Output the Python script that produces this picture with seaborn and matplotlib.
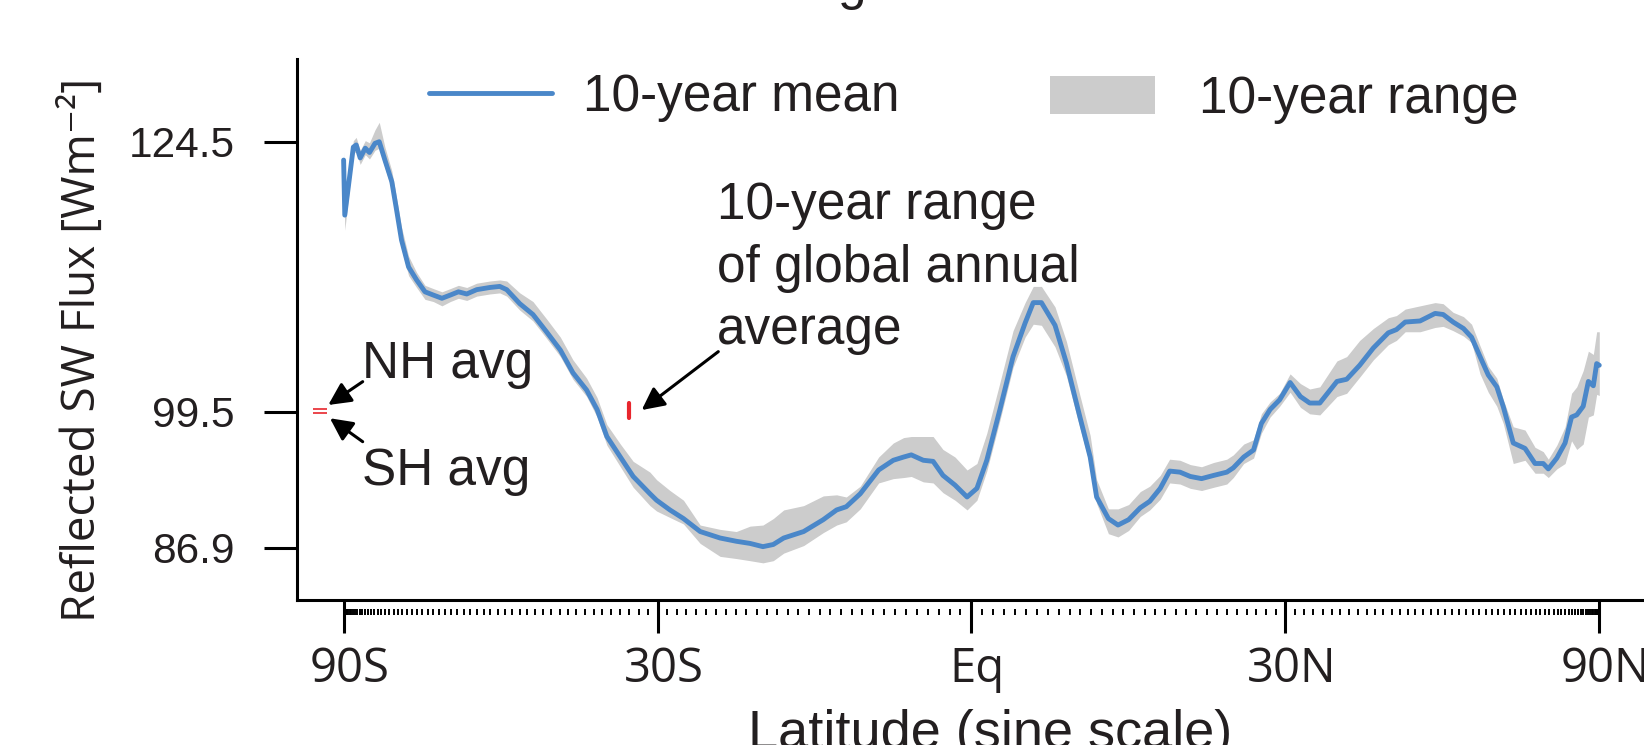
import numpy as np
import pandas as pd
import matplotlib
matplotlib.use("Agg")
import matplotlib.pyplot as plt
import matplotlib.transforms as mtransforms
from matplotlib.lines import Line2D
from matplotlib.patches import Patch
from matplotlib.ticker import FixedLocator, NullFormatter
import seaborn as sns

# ---------------- data ----------------
lat = [-89.5, -86.5, -79.9, -78.5, -76.8, -74.9, -73.5, -71.8, -70.6, -69.1,
       -67.4, -66.3, -65.2, -63.7, -62.1, -60.5, -59.0, -57.5, -56.1, -54.8,
       -53.5, -52.0, -50.1, -48.7, -47.75, -46.0, -44.3, -42.6, -40.9, -39.4,
       -37.8, -36.6, -35.5, -34.0, -32.6, -30.8, -30.1, -28.7, -27.3, -25.6,
       -23.6, -22.0, -20.65, -19.4, -18.4, -17.4, -15.5, -13.65, -12.4, -11.5,
       -10.2, -8.5, -7.15, -6.2, -5.5, -4.4, -3.5, -2.6, -1.5, -0.4,
       0.5, 1.4, 2.6, 3.8, 4.9, 5.65, 6.4, 7.65, 8.7, 9.95,
       10.9, 11.5, 12.6, 13.5, 14.5, 15.6, 16.5, 17.5, 18.4, 19.4,
       20.4, 21.5, 22.7, 24.0, 24.65, 25.7, 26.7, 27.5, 28.4, 29.4,
       30.5, 31.6, 32.6, 33.7, 35.6, 36.7, 38.2, 39.8, 41.6, 42.6,
       43.7, 45.6, 47.6, 48.7, 50.1, 51.6, 52.8, 54.1, 55.4, 56.8,
       57.9, 59.65, 61.85, 63.85, 65.6, 66.75, 68.8, 71.0, 72.9, 74.6,
       77.0, 79.3, 82.1, 84.75, 89.5]

flux_mean = [122.8, 117.7, 124.0, 124.2, 123.0, 123.9, 123.5, 124.35, 124.5, 122.8,
             120.8, 118.2, 115.4, 112.9, 111.7, 110.6, 110.3, 110.0, 110.3, 110.6,
             110.4, 110.8, 111.0, 111.1, 110.8, 109.5, 108.5, 106.9, 105.2, 103.1,
             101.5, 99.7, 97.2, 95.3, 93.5, 91.9, 91.3, 90.4, 89.6, 88.4,
             87.8, 87.5, 87.3, 87.0, 87.2, 87.8, 88.4, 89.5, 90.4, 90.7,
             91.9, 94.1, 95.0, 95.3, 95.5, 95.0, 94.9, 93.6, 92.7, 91.6,
             92.4, 95.0, 99.7, 104.6, 107.7, 109.6, 109.6, 107.5, 104.0, 99.0,
             95.3, 91.6, 89.6, 89.0, 89.5, 90.6, 91.2, 92.4, 94.0, 93.9,
             93.5, 93.3, 93.6, 93.9, 94.3, 95.3, 95.95, 98.4, 99.7, 100.6,
             102.2, 100.9, 100.3, 100.3, 102.3, 102.5, 103.8, 105.4, 106.8, 107.1,
             107.8, 107.9, 108.6, 108.5, 107.8, 107.2, 106.4, 104.6, 102.9, 101.8,
             99.95, 96.6, 96.1, 94.7, 94.7, 94.2, 95.2, 96.6, 99.0, 99.2,
             100.0, 102.3, 101.9, 103.95, 103.8]

flux_min = [122.0, 116.3, 123.4, 123.6, 122.4, 123.3, 122.9, 123.7, 123.9, 122.1,
            120.0, 117.4, 114.6, 112.1, 111.0, 109.9, 109.7, 109.3, 109.7, 110.0,
            109.8, 110.2, 110.4, 110.5, 110.2, 108.9, 107.9, 106.3, 104.6, 102.5,
            100.9, 99.0, 96.4, 94.4, 92.5, 90.8, 90.3, 89.7, 89.1, 87.3,
            86.1, 85.9, 85.7, 85.5, 85.7, 86.4, 87.1, 88.3, 89.0, 89.3,
            90.5, 92.9, 93.3, 93.4, 93.5, 93.0, 92.9, 92.0, 91.3, 90.4,
            91.3, 94.0, 98.7, 103.6, 106.4, 107.6, 107.5, 105.5, 102.8, 98.0,
            94.5, 91.0, 88.2, 87.9, 88.5, 89.8, 90.4, 91.4, 92.9, 92.8,
            92.4, 92.2, 92.5, 92.8, 93.4, 94.7, 95.2, 97.5, 99.0, 100.0,
            101.3, 99.9, 99.3, 99.2, 100.9, 101.2, 102.7, 104.3, 105.7, 106.1,
            106.9, 106.9, 107.3, 107.4, 107.0, 106.5, 105.9, 103.0, 101.3, 100.0,
            98.4, 94.7, 95.0, 93.8, 93.8, 93.4, 94.2, 94.7, 96.8, 96.0,
            96.5, 99.0, 99.2, 101.1, 101.0]

flux_max = [123.6, 118.6, 124.6, 124.9, 123.7, 124.6, 124.4, 125.6, 126.3, 124.0,
            121.8, 119.3, 116.6, 113.9, 112.4, 111.2, 110.9, 110.6, 110.9, 111.2,
            111.0, 111.4, 111.6, 111.7, 111.6, 110.5, 109.7, 108.1, 106.4, 104.3,
            102.6, 100.8, 98.3, 96.5, 94.9, 93.9, 93.2, 92.2, 91.3, 89.0,
            88.6, 88.4, 88.9, 89.0, 89.6, 90.4, 90.8, 91.7, 91.8, 91.6,
            92.6, 95.3, 96.6, 97.1, 97.2, 97.2, 97.2, 96.0, 95.3, 94.1,
            94.7, 97.5, 102.2, 107.0, 109.6, 111.1, 111.1, 109.2, 106.0, 101.0,
            97.3, 93.2, 90.5, 90.5, 90.9, 92.1, 92.6, 93.6, 95.1, 95.0,
            94.6, 94.4, 94.8, 95.1, 95.5, 96.5, 96.9, 99.3, 100.4, 101.2,
            103.0, 102.1, 101.6, 101.8, 104.2, 104.6, 106.1, 107.2, 108.2, 108.4,
            109.0, 109.3, 109.6, 109.5, 108.7, 108.3, 107.6, 105.6, 103.7, 102.6,
            100.6, 98.1, 97.8, 96.2, 95.8, 95.1, 96.4, 98.1, 101.2, 101.8,
            103.3, 105.1, 104.8, 106.9, 106.9]

nh_avg = 99.72
sh_avg = 99.35
global_annual_range = [98.89, 100.28]

xtick_lats = [-90, -30, 0, 30, 90]
xtick_labels = ["90S", "30S", "Eq", "30N", "90N"]
ytick_vals = [86.9, 99.5, 124.5]
ytick_labels = ["86.9", "99.5", "124.5"]

# ---------------- style ----------------
sns.set_style("ticks")
plt.rcParams["font.family"] = ["Liberation Sans", "DejaVu Sans"]
plt.rcParams["text.color"] = "#231f20"

BLUE = "#4a87c9"
GREY = "#cccccc"
RED = "#e8262d"
INK = "#231f20"

W, H, DPI = 1644, 745, 100
fig = plt.figure(figsize=(W / DPI, H / DPI), dpi=DPI)
ax = fig.add_axes([297 / W, (H - 600) / H, (W - 297) / W, (600 - 59) / H])

df = pd.DataFrame({
    "sinlat": np.sin(np.radians(lat)),
    "mean": flux_mean,
    "lo": flux_min,
    "hi": flux_max,
})

ax.fill_between(df["sinlat"], df["lo"], df["hi"], color=GREY, lw=0, zorder=1)
sns.lineplot(data=df, x="sinlat", y="mean", ax=ax, color=BLUE, lw=3.5,
             estimator=None, sort=False, legend=False, zorder=3)

# red markers
ax.hlines([nh_avg, sh_avg], -1.049, -1.027, colors=RED, lw=1.2,
          clip_on=False, zorder=4)
vl = ax.vlines(-0.5449, global_annual_range[0], global_annual_range[1],
               colors=RED, lw=3.0, zorder=4)
vl.set_capstyle("round")

# axes limits & spines
ax.set_xlim(-1.07422, 1.07120)
ax.set_ylim(82.06, 132.16)
ax.spines["top"].set_visible(False)
ax.spines["right"].set_visible(False)
for s in ("left", "bottom"):
    ax.spines[s].set_linewidth(2.2)
    ax.spines[s].set_color("black")

ax.set_xticks(np.sin(np.radians(xtick_lats)), labels=xtick_labels)
ax.set_yticks(ytick_vals, labels=ytick_labels)
ax.tick_params(axis="both", which="major", length=24, width=2.2,
               direction="out", color="black", labelcolor=INK)
ax.tick_params(axis="y", pad=21, labelsize=30.5)
ax.tick_params(axis="x", pad=9, labelsize=34)
shift = mtransforms.ScaledTranslation(0.06, 0, fig.dpi_scale_trans)
for lbl in ax.get_xticklabels():
    lbl.set_fontfamily("Open Sans")
    lbl.set_transform(lbl.get_transform() + shift)

# floating minor ticks (every degree, sine spaced)
secax = ax.secondary_xaxis(-9 / 541)
secax.xaxis.set_major_locator(FixedLocator(np.sin(np.radians(np.arange(-90, 91)))))
secax.xaxis.set_major_formatter(NullFormatter())
secax.tick_params(axis="x", which="major", length=4.3, width=1.4,
                  direction="out", color="black")
for sp in secax.spines.values():
    sp.set_visible(False)

# axis labels
ax.set_ylabel("Reflected SW Flux [Wm\u207b\u00b2]", fontsize=33,
              family=["Open Sans", "DejaVu Sans"], color=INK)
ax.yaxis.set_label_coords(-0.142, 0.462)
ax.set_xlabel("Latitude (sine scale)", fontsize=39, color=INK)
ax.xaxis.set_label_coords(0.5145, -0.2015)

# annotations
arrow_kw = dict(arrowstyle="-|>", color="black", lw=2.2, mutation_scale=34,
                shrinkA=0, shrinkB=0)
ax.annotate("", xy=(-1.0244, 100.12), xytext=(-0.9696, 102.28),
            arrowprops=arrow_kw, annotation_clip=False)
ax.annotate("", xy=(-1.0217, 98.89), xytext=(-0.9696, 96.72),
            arrowprops=arrow_kw, annotation_clip=False)
ax.annotate("", xy=(-0.5252, 99.65), xytext=(-0.4032, 105.06),
            arrowprops=arrow_kw)
ax.text(-0.9707, 102.59, "NH avg", fontsize=37, va="baseline", ha="left")
ax.text(-0.9707, 92.71, "SH avg", fontsize=37, va="baseline", ha="left")
ax.text(-0.4053, 120.86, "10-year range\nof global annual\naverage", fontsize=37,
        va="top", ha="left", linespacing=1.36)

# legend (two entries, different handle sizes)
leg1 = ax.legend(handles=[Line2D([], [], color=BLUE, lw=3.5)], labels=["10-year mean"],
                 loc="center left", bbox_to_anchor=(429 / W, (H - 97) / H),
                 bbox_transform=fig.transFigure, frameon=False, fontsize=37,
                 handlelength=2.39, handletextpad=0.6, borderpad=0, borderaxespad=0)
ax.add_artist(leg1)
ax.legend(handles=[Patch(facecolor=GREY, edgecolor="none")], labels=["10-year range"],
          loc="center left", bbox_to_anchor=(1050 / W, (H - 99.5) / H),
          bbox_transform=fig.transFigure, frameon=False, fontsize=37,
          handlelength=2.04, handleheight=0.76, handletextpad=0.86,
          borderpad=0, borderaxespad=0)

# title (only its lowest part is visible at the top edge)
fig.text(852 / W, 1 + 1 / H, "g", fontsize=37, ha="center", va="baseline")

fig.savefig("out.png", dpi=DPI)
